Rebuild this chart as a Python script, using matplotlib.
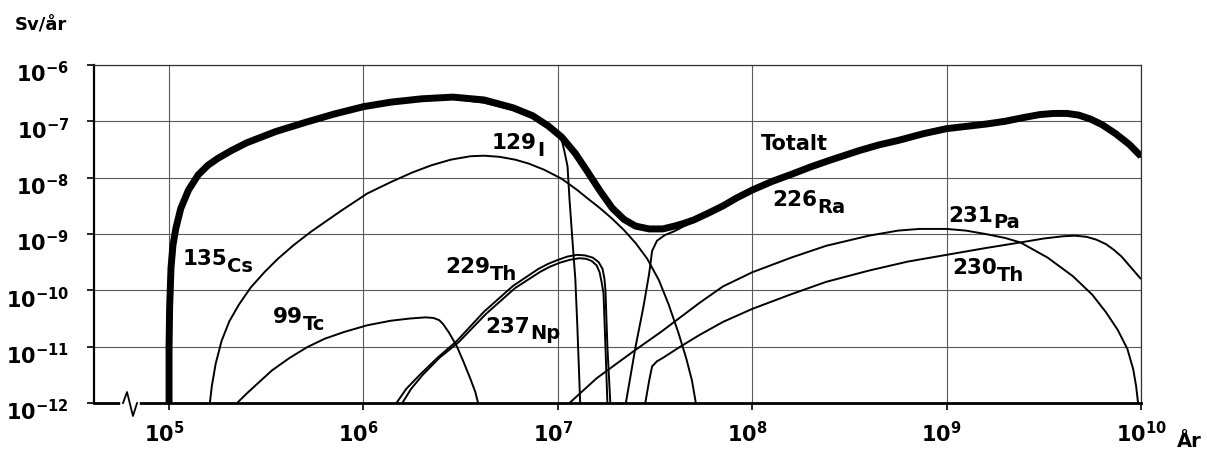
import numpy as np
import matplotlib.pyplot as plt
from matplotlib import transforms
from matplotlib.ticker import NullLocator

plt.rcParams.update({
    "font.family": "DejaVu Sans",
    "font.weight": "bold",
    "mathtext.fontset": "dejavusans",
    "mathtext.default": "bf",
})

# values, as log10(years) and log10(Sv/year)
tot_x = np.array([5.0, 5.0, 5.003, 5.01, 5.02, 5.035, 5.06, 5.10, 5.15, 5.20, 5.25, 5.32, 5.40, 5.55,
                  5.71, 5.85, 6.00, 6.14, 6.30, 6.46, 6.62, 6.77, 6.87, 6.95, 7.02, 7.09, 7.15, 7.22,
                  7.28, 7.34, 7.40, 7.47, 7.54, 7.60, 7.65, 7.70, 7.78, 7.85, 7.92, 8.00, 8.10, 8.21,
                  8.30, 8.40, 8.55, 8.65, 8.75, 8.88, 9.00, 9.10, 9.20, 9.30, 9.40, 9.48, 9.55, 9.62,
                  9.68, 9.74, 9.80, 9.87, 9.94, 10.0])
tot_y = np.array([-12.0, -11.0, -10.3, -9.6, -9.2, -8.9, -8.55, -8.22, -7.95, -7.78, -7.66, -7.52, -7.38, -7.18,
                  -7.01, -6.87, -6.74, -6.66, -6.60, -6.57, -6.62, -6.76, -6.90, -7.08, -7.28, -7.57, -7.88, -8.25,
                  -8.54, -8.74, -8.86, -8.91, -8.91, -8.86, -8.81, -8.75, -8.62, -8.50, -8.36, -8.22, -8.07, -7.93,
                  -7.81, -7.69, -7.52, -7.42, -7.34, -7.22, -7.13, -7.09, -7.05, -7.00, -6.93, -6.88, -6.86, -6.86,
                  -6.89, -6.96, -7.06, -7.22, -7.41, -7.62])

i129_x = np.array([5.0, 5.0, 5.01, 5.035, 5.10, 5.20, 5.32, 5.55, 5.85, 6.14, 6.30, 6.46, 6.62, 6.77,
                   6.87, 6.95, 7.02, 7.035, 7.05, 7.06, 7.075, 7.09, 7.10, 7.115])
i129_y = np.array([-12.0, -11.0, -9.6, -8.9, -8.22, -7.78, -7.52, -7.18, -6.87, -6.66, -6.61, -6.60, -6.67, -6.80,
                   -6.93, -7.10, -7.33, -7.55, -7.8, -8.38, -9.1, -9.8, -10.6, -12.0])

cs135_x = np.array([5.21, 5.22, 5.24, 5.27, 5.31, 5.36, 5.42, 5.49, 5.56, 5.64, 5.73, 5.88, 6.02, 6.14,
                    6.25, 6.35, 6.45, 6.55, 6.62, 6.70, 6.78, 6.85, 6.93, 7.02, 7.10, 7.15, 7.22, 7.28,
                    7.34, 7.40, 7.46, 7.52, 7.57, 7.62, 7.66, 7.69, 7.71])
cs135_y = np.array([-12.0, -11.7, -11.3, -10.9, -10.55, -10.25, -9.95, -9.68, -9.44, -9.2, -8.96, -8.6, -8.28, -8.08,
                    -7.91, -7.78, -7.68, -7.62, -7.61, -7.63, -7.68, -7.75, -7.86, -8.02, -8.22, -8.36, -8.55, -8.73,
                    -8.93, -9.16, -9.44, -9.82, -10.25, -10.75, -11.2, -11.6, -12.0])

tc99_x = np.array([5.35, 5.40, 5.46, 5.53, 5.62, 5.71, 5.80, 5.90, 6.02, 6.14, 6.24, 6.32, 6.36, 6.39,
                   6.41, 6.44, 6.48, 6.515, 6.55, 6.575, 6.59])
tc99_y = np.array([-12.0, -11.83, -11.64, -11.42, -11.2, -11.01, -10.86, -10.74, -10.62, -10.54, -10.5, -10.48,
                   -10.49, -10.53, -10.6, -10.75, -10.99, -11.27, -11.57, -11.8, -12.0])

th229_x = np.array([6.17, 6.22, 6.29, 6.38, 6.48, 6.62, 6.77, 6.90, 6.95, 7.00, 7.05, 7.10, 7.14, 7.18,
                    7.21, 7.23, 7.24, 7.245, 7.255, 7.27])
th229_y = np.array([-12.0, -11.75, -11.5, -11.2, -10.9, -10.38, -9.92, -9.62, -9.53, -9.46, -9.40, -9.37, -9.38,
                    -9.42, -9.50, -9.62, -9.8, -10.0, -11.0, -12.0])

np237_x = np.array([6.20, 6.245, 6.305, 6.39, 6.49, 6.63, 6.78, 6.91, 6.96, 7.01, 7.06, 7.11, 7.145, 7.175,
                    7.20, 7.215, 7.225, 7.235, 7.245, 7.255])
np237_y = np.array([-12.0, -11.75, -11.5, -11.2, -10.92, -10.42, -9.96, -9.67, -9.58, -9.51, -9.46, -9.43, -9.44,
                    -9.48, -9.56, -9.68, -9.85, -10.05, -11.0, -12.0])

ra226_x = np.array([7.35, 7.40, 7.44, 7.47, 7.485, 7.51, 7.55, 7.60, 7.65, 7.70, 7.78, 7.85, 7.92, 8.00,
                    8.10, 8.21, 8.30, 8.40, 8.55, 8.65, 8.75, 8.88, 9.00, 9.10, 9.20, 9.30, 9.40, 9.48,
                    9.55, 9.62, 9.68, 9.74, 9.80, 9.87, 9.94, 10.0])
ra226_y = np.array([-12.0, -11.0, -10.3, -9.7, -9.3, -9.12, -9.02, -8.95, -8.86, -8.78, -8.65, -8.52, -8.38, -8.24,
                    -8.09, -7.95, -7.83, -7.71, -7.54, -7.44, -7.36, -7.24, -7.15, -7.11, -7.07, -7.02, -6.95, -6.90,
                    -6.88, -6.88, -6.91, -6.98, -7.08, -7.24, -7.43, -7.64])

th230_x = np.array([7.45, 7.47, 7.485, 7.51, 7.54, 7.63, 7.73, 7.85, 8.00, 8.20, 8.38, 8.60, 8.80, 9.00,
                    9.20, 9.38, 9.50, 9.60, 9.66, 9.72, 9.77, 9.82, 9.86, 9.90, 9.95, 10.0])
th230_y = np.array([-12.0, -11.6, -11.35, -11.26, -11.2, -11.0, -10.79, -10.56, -10.33, -10.07, -9.85, -9.65, -9.49,
                    -9.37, -9.25, -9.15, -9.08, -9.04, -9.03, -9.05, -9.10, -9.18, -9.28, -9.40, -9.6, -9.80])

pa231_x = np.array([7.06, 7.20, 7.39, 7.53, 7.73, 7.85, 8.00, 8.20, 8.38, 8.60, 8.75, 8.86, 9.00, 9.10,
                    9.20, 9.30, 9.38, 9.52, 9.65, 9.75, 9.82, 9.88, 9.93, 9.96, 9.975, 9.985])
pa231_y = np.array([-12.0, -11.56, -11.08, -10.74, -10.22, -9.93, -9.68, -9.42, -9.21, -9.03, -8.94, -8.91, -8.91,
                    -8.94, -9.0, -9.07, -9.15, -9.42, -9.75, -10.08, -10.39, -10.7, -11.04, -11.4, -11.7, -12.0])

# nuclide labels: mass number, element, position of the join between them
iso_mass = ["129", "135", "99", "229", "237", "226", "231", "230"]
iso_elem = ["I", "Cs", "Tc", "Th", "Np", "Ra", "Pa", "Th"]
iso_x = [6.893, 5.298, 5.689, 6.651, 6.857, 8.333, 9.239, 9.259]
iso_y = [-7.37, -9.43, -10.46, -9.57, -10.63, -8.38, -8.66, -9.59]
total_label = "Totalt"
total_pos = (8.215, -7.38)

x_tick_exp = [5, 6, 7, 8, 9, 10]
y_tick_exp = [-12, -11, -10, -9, -8, -7, -6]

fig = plt.figure(figsize=(12.07, 4.52), dpi=100)
ax = fig.add_axes([0.0779, 0.1062, 0.8674, 0.7478])
ax.set_xscale("log")
ax.set_yscale("log")

thin = dict(color="black", lw=1.4, solid_capstyle="butt")
for xs, ys in [(cs135_x, cs135_y), (tc99_x, tc99_y), (th229_x, th229_y), (np237_x, np237_y),
               (ra226_x, ra226_y), (th230_x, th230_y), (pa231_x, pa231_y), (i129_x, i129_y)]:
    ax.plot(10.0**xs, 10.0**ys, **thin)
ax.plot(10.0**tot_x, 10.0**tot_y, color="black", lw=5.0, solid_capstyle="butt", solid_joinstyle="round")

ax.text(10.0**total_pos[0], 10.0**total_pos[1], total_label, ha="center", va="center", fontsize=15)
for m, e, lx, ly in zip(iso_mass, iso_elem, iso_x, iso_y):
    t = ax.text(10.0**lx, 10.0**ly, m, ha="right", va="center", fontsize=15.5)
    ax.annotate(e, xy=(1, 0.5), xycoords=t, xytext=(0, -5), textcoords="offset points",
                ha="left", va="center", fontsize=14)

ax.set_xlim(10**4.614, 1e10)
ax.set_ylim(1e-12, 1e-6)
ax.set_xticks([10.0**e for e in x_tick_exp])
ax.set_xticklabels([f"$10^{{{e}}}$" for e in x_tick_exp])
ax.set_yticks([10.0**e for e in y_tick_exp])
ax.set_yticklabels([f"$10^{{{e}}}$" for e in y_tick_exp])
ax.xaxis.set_minor_locator(NullLocator())
ax.yaxis.set_minor_locator(NullLocator())
ax.tick_params(axis="y", direction="out", length=5, width=1.2, pad=13, labelsize=15)
ax.tick_params(axis="x", direction="out", length=5, width=1.2, pad=7, labelsize=15)

for lbl in ax.get_yticklabels():
    lbl.set_transform(lbl.get_transform() + transforms.ScaledTranslation(0, -0.06, fig.dpi_scale_trans))
for lbl in ax.get_xticklabels()[:-1]:
    lbl.set_transform(lbl.get_transform() + transforms.ScaledTranslation(-0.05, 0, fig.dpi_scale_trans))

ax.grid(True, which="major", color="#5a5a5a", lw=0.8)
ax.set_axisbelow(True)
ax.spines["left"].set_linewidth(1.6)
ax.spines["bottom"].set_linewidth(2.0)
for s in ["top", "right"]:
    ax.spines[s].set_linewidth(0.9)
    ax.spines[s].set_color("#333333")

# axis break on the x axis
ax.plot([0.0277, 0.0411], [0, 0], color="white", lw=4, transform=ax.transAxes, clip_on=False, zorder=5)
ax.plot([0.0277, 0.0315, 0.0372, 0.0411], [0, 0.0325, -0.0385, 0], color="black", lw=1.3,
        transform=ax.transAxes, clip_on=False, zorder=6)

fig.text(15 / 1207, 1 - 25 / 452, "Sv/år", ha="left", va="center", fontsize=13)
fig.text(1177 / 1207, 1 - 447 / 452, "År", ha="left", va="baseline", fontsize=14)

fig.savefig("out.png", dpi=100)
